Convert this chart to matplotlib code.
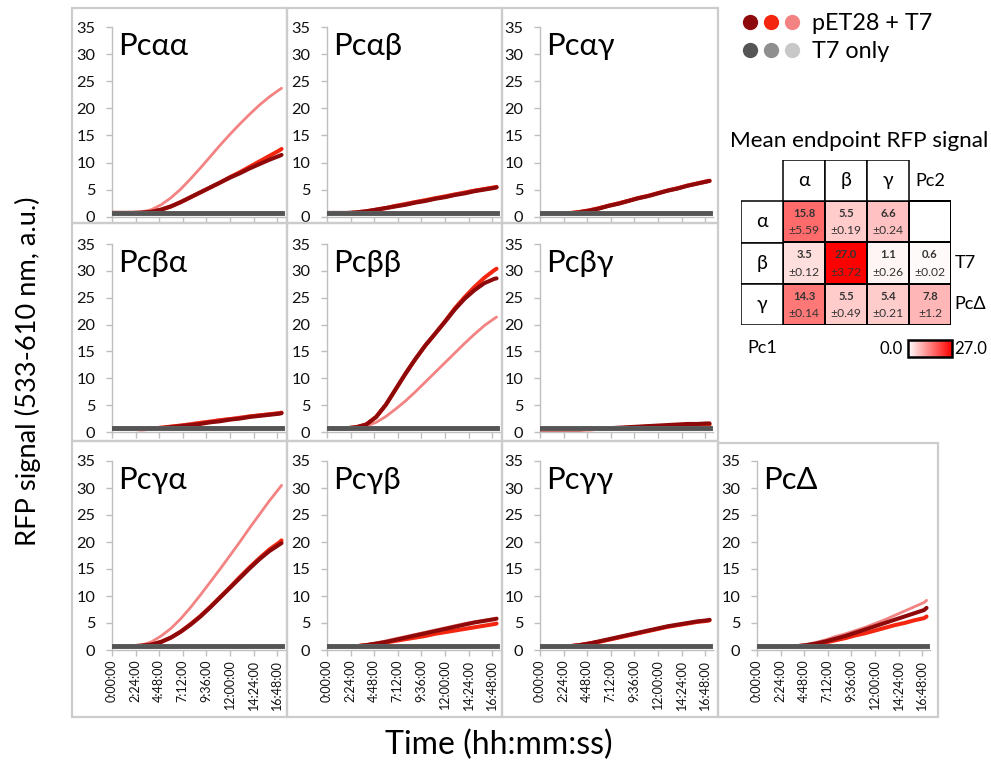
import matplotlib
matplotlib.use("Agg")
import matplotlib.pyplot as plt
import numpy as np
from matplotlib.patches import Rectangle
from matplotlib.colors import LinearSegmentedColormap, Normalize
from matplotlib.cm import ScalarMappable
from matplotlib.legend_handler import HandlerTuple
from matplotlib.lines import Line2D

plt.rcParams['font.family'] = ['Lato', 'Open Sans', 'DejaVu Sans']

# ---------------- data ----------------
TIME_H = [0, 1, 2, 3, 4, 5, 6, 7, 8, 9, 10, 11, 12, 13, 14, 15, 16, 17, 17.25]
TICK_H = [0, 2.4, 4.8, 7.2, 9.6, 12.0, 14.4, 16.8]
TICK_LABELS = ['0:00:00', '2:24:00', '4:48:00', '7:12:00', '9:36:00',
               '12:00:00', '14:24:00', '16:48:00']

GREY_DARK = [0.7, 0.7, 0.7, 0.7, 0.7, 0.7, 0.7, 0.7, 0.7, 0.7, 0.7, 0.7, 0.7, 0.7, 0.7, 0.7, 0.7, 0.7, 0.7]
GREY_MID = [0.7, 0.7, 0.7, 0.7, 0.7, 0.7, 0.7, 0.7, 0.7, 0.7, 0.7, 0.7, 0.7, 0.7, 0.7, 0.7, 0.7, 0.7, 0.7]
GREY_LIGHT = [0.7, 0.7, 0.7, 0.7, 0.7, 0.7, 0.7, 0.7, 0.7, 0.7, 0.7, 0.7, 0.7, 0.7, 0.7, 0.7, 0.7, 0.7, 0.7]

PCAA_DARK = [0.7, 0.7, 0.7, 0.75, 0.9, 1.3, 1.9, 2.7, 3.6, 4.5, 5.4, 6.3, 7.2, 8.0, 8.9, 9.7, 10.5, 11.2, 11.4]
PCAA_RED = [0.7, 0.7, 0.7, 0.75, 0.9, 1.3, 1.9, 2.7, 3.6, 4.5, 5.4, 6.3, 7.3, 8.2, 9.2, 10.2, 11.2, 12.2, 12.5]
PCAA_PINK = [0.7, 0.7, 0.7, 0.85, 1.3, 2.2, 3.5, 5.1, 7.0, 9.0, 11.1, 13.2, 15.2, 17.1, 18.9, 20.6, 22.1, 23.4, 23.7]

PCAB_DARK = [0.7, 0.7, 0.7, 0.8, 1.0, 1.3, 1.6, 1.9, 2.2, 2.6, 2.9, 3.3, 3.6, 4.0, 4.3, 4.7, 5.0, 5.3, 5.4]
PCAB_RED = [0.6, 0.6, 0.6, 0.8, 1.0, 1.3, 1.6, 2.0, 2.3, 2.7, 3.0, 3.4, 3.7, 4.1, 4.4, 4.8, 5.1, 5.4, 5.5]
PCAB_PINK = [0.7, 0.7, 0.7, 0.8, 1.0, 1.3, 1.7, 2.1, 2.5, 2.8, 3.2, 3.5, 3.9, 4.2, 4.6, 4.9, 5.2, 5.5, 5.6]

PCAG_DARK = [0.6, 0.6, 0.6, 0.6, 0.8, 1.1, 1.5, 2.0, 2.4, 2.9, 3.4, 3.8, 4.3, 4.8, 5.2, 5.7, 6.1, 6.5, 6.6]
PCAG_RED = [0.6, 0.6, 0.6, 0.65, 0.85, 1.15, 1.55, 2.05, 2.45, 2.95, 3.45, 3.85, 4.35, 4.85, 5.25, 5.75, 6.15, 6.55, 6.65]
PCAG_PINK = [0.7, 0.7, 0.7, 0.8, 1.0, 1.3, 1.7, 2.1, 2.6, 3.0, 3.5, 3.9, 4.4, 4.8, 5.3, 5.7, 6.1, 6.4, 6.5]

PCBA_DARK = [0.6, 0.6, 0.6, 0.6, 0.6, 0.7, 0.9, 1.1, 1.3, 1.5, 1.8, 2.0, 2.3, 2.5, 2.8, 3.0, 3.2, 3.4, 3.5]
PCBA_RED = [0.6, 0.6, 0.6, 0.5, 0.6, 0.8, 1.0, 1.2, 1.4, 1.7, 1.9, 2.2, 2.4, 2.6, 2.9, 3.1, 3.3, 3.5, 3.6]
PCBA_PINK = [0.7, 0.7, 0.7, 0.7, 0.8, 0.9, 1.1, 1.3, 1.6, 1.8, 2.1, 2.3, 2.5, 2.8, 3.0, 3.2, 3.4, 3.6, 3.7]

PCBB_DARK = [0.7, 0.7, 0.7, 0.9, 1.4, 2.8, 5.1, 8.0, 10.9, 13.6, 16.1, 18.3, 20.5, 22.8, 24.8, 26.4, 27.7, 28.5, 28.6]
PCBB_RED = [0.7, 0.7, 0.7, 0.9, 1.4, 2.8, 5.1, 8.0, 10.9, 13.6, 16.1, 18.3, 20.6, 23.0, 25.1, 27.0, 28.7, 30.1, 30.4]
PCBB_PINK = [0.7, 0.7, 0.7, 0.8, 1.1, 1.8, 2.9, 4.3, 5.8, 7.5, 9.3, 11.1, 12.9, 14.7, 16.5, 18.2, 19.8, 21.1, 21.4]

PCBG_DARK = [0.5, 0.5, 0.5, 0.5, 0.5, 0.6, 0.6, 0.7, 0.8, 0.9, 1.0, 1.1, 1.2, 1.3, 1.4, 1.5, 1.5, 1.6, 1.6]
PCBG_RED = [0.5, 0.5, 0.5, 0.5, 0.5, 0.5, 0.6, 0.6, 0.7, 0.8, 0.9, 1.0, 1.0, 1.1, 1.2, 1.3, 1.3, 1.4, 1.4]
PCBG_PINK = [0.6, 0.6, 0.6, 0.6, 0.6, 0.6, 0.7, 0.7, 0.8, 0.8, 0.9, 1.0, 1.0, 1.1, 1.1, 1.2, 1.2, 1.3, 1.3]

PCGA_DARK = [0.7, 0.7, 0.7, 0.8, 1.0, 1.5, 2.3, 3.4, 4.7, 6.2, 7.9, 9.7, 11.5, 13.3, 15.1, 16.8, 18.3, 19.5, 19.8]
PCGA_RED = [0.7, 0.7, 0.7, 0.8, 1.0, 1.5, 2.3, 3.4, 4.8, 6.3, 8.0, 9.8, 11.6, 13.5, 15.3, 17.0, 18.6, 19.9, 20.3]
PCGA_PINK = [0.7, 0.7, 0.7, 0.9, 1.5, 2.6, 4.0, 5.8, 7.9, 10.2, 12.6, 15.0, 17.5, 20.0, 22.6, 25.1, 27.6, 29.9, 30.5]

PCGB_DARK = [0.6, 0.6, 0.6, 0.7, 0.9, 1.2, 1.5, 1.9, 2.3, 2.7, 3.1, 3.5, 3.9, 4.3, 4.7, 5.1, 5.4, 5.7, 5.8]
PCGB_RED = [0.6, 0.6, 0.6, 0.7, 0.9, 1.1, 1.4, 1.7, 2.0, 2.3, 2.6, 3.0, 3.3, 3.6, 3.9, 4.2, 4.5, 4.8, 4.9]
PCGB_PINK = [0.7, 0.7, 0.7, 0.8, 1.0, 1.3, 1.7, 2.1, 2.5, 2.9, 3.3, 3.7, 4.1, 4.5, 4.9, 5.2, 5.5, 5.8, 5.9]

PCGG_DARK = [0.6, 0.6, 0.6, 0.7, 0.9, 1.2, 1.6, 2.0, 2.4, 2.8, 3.2, 3.6, 4.0, 4.4, 4.7, 5.0, 5.3, 5.5, 5.6]
PCGG_RED = [0.6, 0.6, 0.6, 0.7, 0.9, 1.2, 1.5, 1.9, 2.3, 2.7, 3.1, 3.5, 3.9, 4.3, 4.6, 4.9, 5.2, 5.4, 5.5]
PCGG_PINK = [0.7, 0.7, 0.7, 0.8, 1.0, 1.3, 1.6, 2.0, 2.4, 2.8, 3.2, 3.6, 3.9, 4.3, 4.6, 4.9, 5.2, 5.4, 5.4]

PCD_DARK = [0.6, 0.6, 0.6, 0.6, 0.7, 0.9, 1.2, 1.6, 2.1, 2.6, 3.2, 3.8, 4.4, 5.0, 5.6, 6.2, 6.8, 7.4, 7.8]
PCD_RED = [0.6, 0.6, 0.6, 0.6, 0.7, 0.8, 1.1, 1.4, 1.8, 2.2, 2.7, 3.1, 3.6, 4.1, 4.6, 5.0, 5.5, 5.9, 6.2]
PCD_PINK = [0.7, 0.7, 0.7, 0.7, 0.8, 1.0, 1.4, 1.9, 2.5, 3.0, 3.6, 4.2, 4.9, 5.6, 6.4, 7.2, 8.0, 8.8, 9.2]

PANEL_TITLES = ['Pcαα', 'Pcαβ', 'Pcαγ', 'Pcβα', 'Pcββ', 'Pcβγ',
                'Pcγα', 'Pcγβ', 'Pcγγ', 'PcΔ']
PANEL_SERIES = [
    (PCAA_DARK, PCAA_RED, PCAA_PINK), (PCAB_DARK, PCAB_RED, PCAB_PINK),
    (PCAG_DARK, PCAG_RED, PCAG_PINK), (PCBA_DARK, PCBA_RED, PCBA_PINK),
    (PCBB_DARK, PCBB_RED, PCBB_PINK), (PCBG_DARK, PCBG_RED, PCBG_PINK),
    (PCGA_DARK, PCGA_RED, PCGA_PINK), (PCGB_DARK, PCGB_RED, PCGB_PINK),
    (PCGG_DARK, PCGG_RED, PCGG_PINK), (PCD_DARK, PCD_RED, PCD_PINK),
]

LEGEND_LABELS = ['pET28 + T7', 'T7 only']

HM_ROW_LABELS = ['α', 'β', 'γ']
HM_COL_LABELS = ['α', 'β', 'γ']
HM_MEAN_A = [15.8, 5.5, 6.6]
HM_MEAN_B = [3.5, 27.0, 1.1]
HM_MEAN_G = [14.3, 5.5, 5.4]
HM_SD_A = ['5.59', '0.19', '0.24']
HM_SD_B = ['0.12', '3.72', '0.26']
HM_SD_G = ['0.14', '0.49', '0.21']
CTRL_LABELS = ['T7', 'PcΔ']
CTRL_MEAN = [0.6, 7.8]
CTRL_SD = ['0.02', '1.2']
HM_VMIN, HM_VMAX = 0.0, 27.0

# ---------------- style ----------------
W, H = 991, 768
C_DARK, C_RED, C_PINK = '#8E0A0A', '#F5260F', '#F38383'
C_GDARK, C_GMID, C_GLIGHT = '#555555', '#8F8F8F', '#C8C8C8'
AX_GREY = '#BFBFBF'
BOX_GREY = '#CCCCCC'


def fx(x):
    return x / W


def fy(y):
    return 1 - y / H


fig = plt.figure(figsize=(W / 100, H / 100), dpi=100)
fig.patch.set_facecolor('white')
renderer = fig.canvas.get_renderer()


def fit_size(s, target_px, **kw):
    t = fig.text(0, 0, s, fontsize=10, **kw)
    w = t.get_window_extent(renderer).width
    t.remove()
    return 10 * target_px / w


FS_YTICK = fit_size('35', 19)
FS_XTICK = fit_size('16:48:00', 50)
FS_TITLE = fit_size('Pcαα', 70)
FS_LEG = fit_size('pET28 + T7', 120)
FS_HMTITLE = fit_size('Mean endpoint RFP signal', 258)
FS_YLABEL = fit_size('RFP signal (533-610 nm, a.u.)', 348)
FS_XLABEL = fit_size('Time (hh:mm:ss)', 227)
FS_MEAN = fit_size('15.8', 22, fontweight='bold')
FS_SD = fit_size('±5.59', 31)
FS_SIDE = fit_size('Pc2', 30)
FS_CB = fit_size('27.0', 33)

# panel frames
boxes = [(72, 7.5, 287, 223), (287, 7.5, 502, 223), (502, 7.5, 718, 223),
         (72, 223, 287, 441), (287, 223, 502, 441), (502, 223, 718, 441),
         (72, 441, 287, 717), (287, 441, 502, 717), (502, 441, 718, 717),
         (718, 443, 938, 717)]
for (x0, y0, x1, y1) in boxes:
    fig.add_artist(Rectangle((fx(x0), fy(y1)), (x1 - x0) / W, (y1 - y0) / H,
                             transform=fig.transFigure, facecolor='none',
                             edgecolor=BOX_GREY, lw=1.6))

row_top = [27, 244, 461]
row_bot = [216.7, 432, 650]
col_left = [112, 327, 540]
axes_pos = []
for r in range(3):
    for c in range(3):
        axes_pos.append((col_left[c], row_top[r], row_bot[r]))
axes_pos.append((757, row_top[2], row_bot[2]))

for i, (L, T, B) in enumerate(axes_pos):
    ax = fig.add_axes([fx(L), fy(B), 173 / W, (B - T) / H])
    dark, red, pink = PANEL_SERIES[i]
    ax.plot(TIME_H, pink, color=C_PINK, lw=2.0, solid_capstyle='round', zorder=3)
    ax.plot(TIME_H, red, color=C_RED, lw=2.9, solid_capstyle='round', zorder=4)
    ax.plot(TIME_H, dark, color=C_DARK, lw=2.9, solid_capstyle='round', zorder=5)
    ax.plot(TIME_H, GREY_LIGHT, color=C_GLIGHT, lw=3.4, zorder=6)
    ax.plot(TIME_H, GREY_MID, color=C_GMID, lw=3.4, zorder=7)
    ax.plot(TIME_H, GREY_DARK, color=C_GDARK, lw=3.4, zorder=8)
    ax.set_xlim(0, 17.6)
    ax.set_ylim(0, 35)
    ax.set_yticks([0, 5, 10, 15, 20, 25, 30, 35])
    ax.set_xticks(TICK_H)
    for s in ['top', 'right']:
        ax.spines[s].set_visible(False)
    for s in ['left', 'bottom']:
        ax.spines[s].set_color(AX_GREY)
        ax.spines[s].set_linewidth(1.0)
    ax.tick_params(axis='y', colors=AX_GREY, labelcolor='#111111', length=4,
                   width=1, labelsize=FS_YTICK, pad=8)
    ax.tick_params(axis='x', colors=AX_GREY, labelcolor='#111111', length=4,
                   width=1, labelsize=FS_XTICK, pad=3)
    if T == row_top[2]:
        ax.set_xticklabels(TICK_LABELS, rotation=90)
    else:
        ax.set_xticklabels([])
    ax.text(0.035, 0.975, PANEL_TITLES[i], transform=ax.transAxes,
            ha='left', va='top', fontsize=FS_TITLE, color='black')
    ax.patch.set_alpha(0)

# axis titles
fig.text(fx(28), fy(371), 'RFP signal (533-610 nm, a.u.)', rotation=90,
         ha='center', va='center', fontsize=FS_YLABEL)
fig.text(fx(499), fy(745), 'Time (hh:mm:ss)', ha='center', va='center',
         fontsize=FS_XLABEL)

# legend
red_handles = tuple(Line2D([], [], ls='none', marker='o', ms=11, mfc=c, mec='none')
                    for c in (C_DARK, C_RED, C_PINK))
grey_handles = tuple(Line2D([], [], ls='none', marker='o', ms=11, mfc=c, mec='none')
                     for c in (C_GDARK, C_GMID, C_GLIGHT))
fs_px = FS_LEG * 100 / 72
fig.legend([red_handles, grey_handles], LEGEND_LABELS,
           handler_map={tuple: HandlerTuple(ndivide=None, pad=0.15)},
           loc='upper left', bbox_to_anchor=(fx(742), fy(13)), frameon=False,
           fontsize=FS_LEG, handlelength=58 / fs_px, handletextpad=12 / fs_px,
           labelspacing=7 / fs_px, borderpad=0, borderaxespad=0)

# heatmap
fig.text(fx(859), fy(141), 'Mean endpoint RFP signal', ha='center',
         va='center', fontsize=FS_HMTITLE)
hm = fig.add_axes([fx(741), fy(325), 210 / W, 165 / H])
hm.set_xlim(0, 5)
hm.set_ylim(4, 0)
hm.axis('off')
cmap = LinearSegmentedColormap.from_list('wr', ['#FFFFFF', '#FF0000'])
grid = np.ma.masked_invalid(np.array([
    HM_MEAN_A + [np.nan],
    HM_MEAN_B + [CTRL_MEAN[0]],
    HM_MEAN_G + [CTRL_MEAN[1]],
], dtype=float))
hm.pcolormesh(np.arange(1, 6), np.arange(1, 5), grid, cmap=cmap,
              vmin=HM_VMIN, vmax=HM_VMAX, edgecolors='black', linewidth=1.1)
for j, lab in enumerate(HM_COL_LABELS):
    hm.add_patch(Rectangle((1 + j, 0), 1, 1, facecolor='white',
                           edgecolor='black', lw=1.1))
    hm.text(1.5 + j, 0.5, lab, ha='center', va='center', fontsize=14)
for i, lab in enumerate(HM_ROW_LABELS):
    hm.add_patch(Rectangle((0, 1 + i), 1, 1, facecolor='white',
                           edgecolor='black', lw=1.1))
    hm.text(0.5, 1.5 + i, lab, ha='center', va='center', fontsize=14)
means = [HM_MEAN_A, HM_MEAN_B, HM_MEAN_G]
sds = [HM_SD_A, HM_SD_B, HM_SD_G]
for i in range(3):
    for j in range(3):
        hm.text(1.5 + j, 1.3 + i, f'{means[i][j]:.1f}', ha='center',
                va='center', fontsize=FS_MEAN, fontweight='bold', color='#333333')
        hm.text(1.5 + j, 1.72 + i, f'±{sds[i][j]}', ha='center',
                va='center', fontsize=FS_SD, color='#333333')
for k in range(2):
    hm.text(4.5, 2.3 + k, f'{CTRL_MEAN[k]:.1f}', ha='center', va='center',
            fontsize=FS_MEAN, fontweight='bold', color='#333333')
    hm.text(4.5, 2.72 + k, f'±{CTRL_SD[k]}', ha='center', va='center',
            fontsize=FS_SD, color='#333333')
hm.text(4.15, 0.5, 'Pc2', ha='left', va='center', fontsize=FS_SIDE, clip_on=False)
hm.text(5.35, 2.5, CTRL_LABELS[0], ha='center', va='center', fontsize=FS_SIDE,
        clip_on=False)
hm.text(5.08, 3.5, CTRL_LABELS[1], ha='left', va='center', fontsize=FS_SIDE,
        clip_on=False)
hm.text(0.15, 4.55, 'Pc1', ha='left', va='center', fontsize=FS_SIDE, clip_on=False)

cax = fig.add_axes([fx(908), fy(357), 44 / W, 17 / H])
cb = fig.colorbar(ScalarMappable(norm=Normalize(HM_VMIN, HM_VMAX), cmap=cmap),
                  cax=cax, orientation='horizontal')
cb.set_ticks([])
cb.outline.set_linewidth(1.8)
fig.text(fx(903), fy(348.5), f'{HM_VMIN:.1f}', ha='right', va='center',
         fontsize=FS_CB)
fig.text(fx(954), fy(348.5), f'{HM_VMAX:.1f}', ha='left', va='center',
         fontsize=FS_CB)

fig.savefig('out.png', dpi=100)
